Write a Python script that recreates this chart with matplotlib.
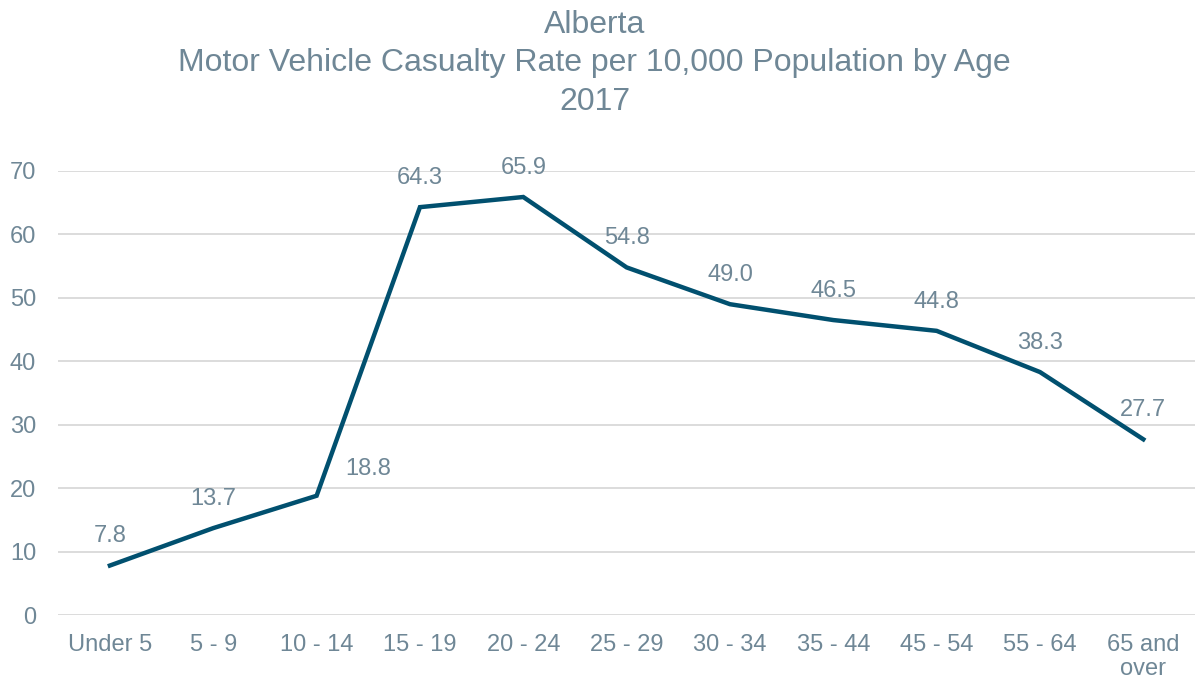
import numpy as np
import matplotlib.pyplot as plt

plt.rcParams['font.family'] = ['Liberation Sans', 'DejaVu Sans']

# 数据
age_groups = ['Under 5', '5 - 9', '10 - 14', '15 - 19', '20 - 24', '25 - 29',
              '30 - 34', '35 - 44', '45 - 54', '55 - 64', '65 and\nover']
rates = [7.8, 13.7, 18.8, 64.3, 65.9, 54.8, 49.0, 46.5, 44.8, 38.3, 27.7]

text_color = '#6F8796'
line_color = '#01506F'

fig = plt.figure(figsize=(12.01, 6.81), dpi=100)
ax = fig.add_axes([0.0485, 0.0969, 0.9465, 0.652])

x = np.arange(len(rates))
ax.plot(x, rates, color=line_color, linewidth=3.2, solid_joinstyle='miter', zorder=3)

for i, v in enumerate(rates):
    if age_groups[i] == '10 - 14':
        # 这个标签在右边
        ax.annotate(f'{v:.1f}', (i, v), xytext=(37, 11), textcoords='offset points',
                    ha='center', va='bottom', fontsize=17, color=text_color)
    else:
        ax.annotate(f'{v:.1f}', (i, v), xytext=(0, 13), textcoords='offset points',
                    ha='center', va='bottom', fontsize=17, color=text_color)

ax.set_xlim(-0.5, len(rates) - 0.5)
ax.set_ylim(0, 70)
ax.set_yticks(range(0, 71, 10))
ax.set_xticks(x)
ax.set_xticklabels(age_groups, linespacing=1.1)
ax.tick_params(axis='both', length=0, labelsize=17, labelcolor=text_color)
ax.tick_params(axis='x', pad=14)
ax.tick_params(axis='y', pad=16)

ax.grid(axis='y', color='#D9D9D9', linewidth=1.3)
ax.set_axisbelow(True)
for s in ax.spines.values():
    s.set_visible(False)

fig.text(0.495, 0.985, 'Alberta\nMotor Vehicle Casualty Rate per 10,000 Population by Age\n2017',
         ha='center', va='top', fontsize=23, color=text_color, linespacing=1.36)

plt.savefig('out.png', dpi=100)
